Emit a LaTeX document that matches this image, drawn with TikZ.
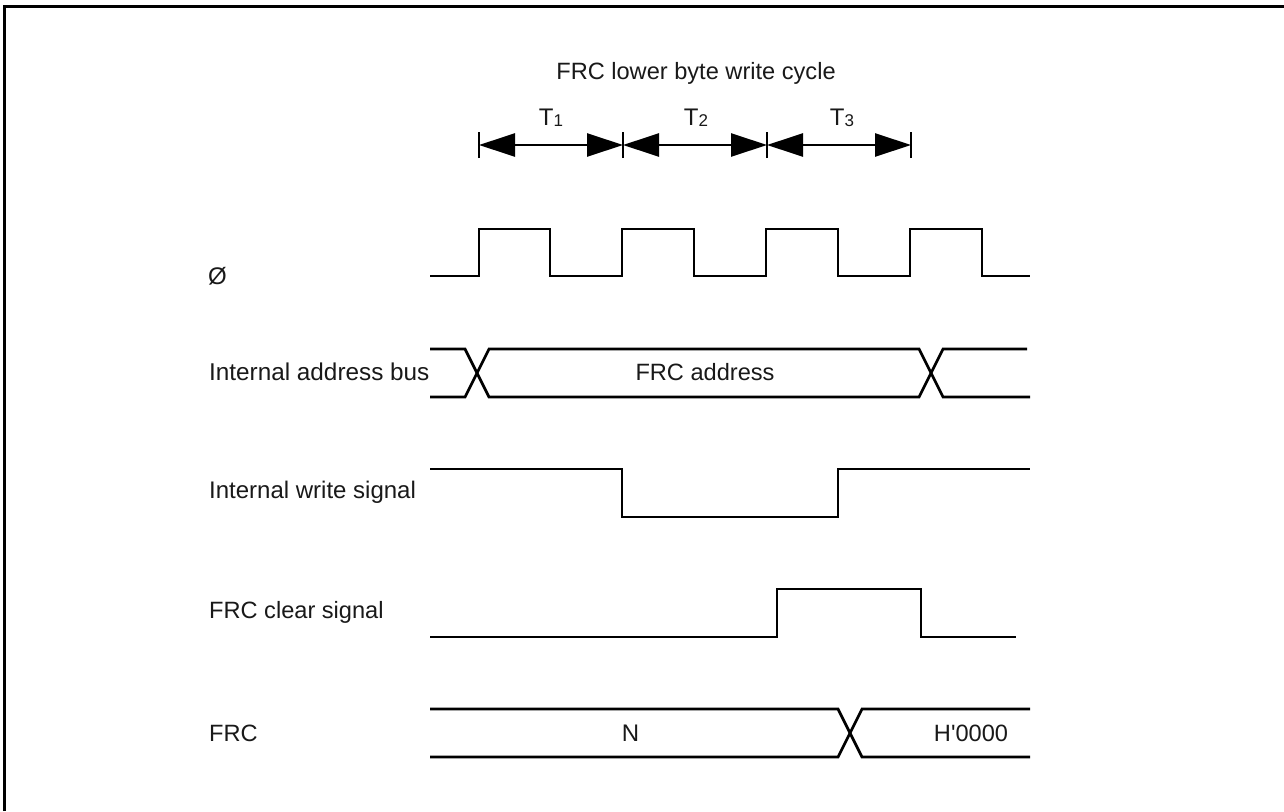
\documentclass[tikz,border=0pt]{standalone}
\usepackage{fontspec}
\setmainfont{Liberation Sans}
\usetikzlibrary{arrows.meta}
\tikzset{
 wave/.style={draw=black,line width=2.7pt,line cap=butt,line join=miter},
 lbl/.style={inner sep=0pt,font=\fontsize{24pt}{28pt}\selectfont,text=black!90},
 wide/.style={inner sep=0pt,font=\fontsize{24.3pt}{28pt}\selectfont,text=black!90},
 ttl/.style={inner sep=0pt,font=\fontsize{23.6pt}{28pt}\selectfont,text=black!90},
 dim/.style={draw=black,line width=2.6pt,{Triangle[length=36pt,width=23pt]}-{Triangle[length=36pt,width=23pt]},shorten >=0pt,shorten <=0pt},
 tick/.style={draw=black,line width=2.6pt},
}
\newcommand{\subd}[1]{\raisebox{-1pt}{\fontsize{17pt}{18pt}\selectfont #1}}
\begin{document}
\begin{tikzpicture}[x=1pt,y=-1pt]
\useasboundingbox (0,0) rectangle (1284,811);
\fill[white] (0,0) rectangle (1284,811);
\draw[line width=3pt] (4.7,811) -- (4.7,6.5) -- (1284,6.5);
% labels
\node[ttl] (title) at (696,73) {FRC lower byte write cycle};
\node[lbl] (t1) at (551,118) {T\subd{1}};
\node[lbl] (t2) at (696,118) {T\subd{2}};
\node[lbl] (t3) at (842,118) {T\subd{3}};
\node[lbl,anchor=west] (phi) at (208,276) {Ø};
\node[wide,anchor=west] (addr) at (209,372) {Internal address bus};
\node[lbl,anchor=west] (wr) at (209,492) {Internal write signal};
\node[ttl,anchor=west] (clr) at (209,612) {FRC clear signal};
\node[ttl,anchor=west] (frc) at (209,733) {FRC};
\node[ttl] (fa) at (705,372) {FRC address};
\node[lbl] (n) at (630.5,733) {N};
\node[ttl] (h) at (971,733) {H\textquotesingle 0000};
% dimension
\coordinate (a0) at (479,145); \coordinate (a1) at (623,145);
\coordinate (a2) at (767,145); \coordinate (a3) at (911,145);
\foreach \p in {a0,a1,a2,a3} \draw[tick] ([yshift=-13pt]\p) -- ([yshift=13pt]\p);
\draw[dim] (a0) -- (a1);
\draw[dim] (a1) -- (a2);
\draw[dim] (a2) -- (a3);
% clock
\draw[wave] (430,276) -| (479,229) -| (550,276) -| (622,229) -| (694,276) -| (766,229) -| (838,276) -| (910,229) -| (982,276) -- (1030,276);
% address
\draw[wave] (430,349) -- (465,349) -- (489,397) -- (919,397) -- (943,349) -- (1027,349);
\draw[wave] (430,397) -- (465,397) -- (489,349) -- (919,349) -- (943,397) -- (1030,397);
% write
\draw[wave] (430,469) -| (622,517) -| (838,469) -- (1030,469);
% clear
\draw[wave] (430,637) -| (777,589) -| (921,637) -- (1016,637);
% FRC
\draw[wave] (430,709) -- (838,709) -- (862,757) -- (1030,757);
\draw[wave] (430,757) -- (838,757) -- (862,709) -- (1030,709);
\end{tikzpicture}
\end{document}
